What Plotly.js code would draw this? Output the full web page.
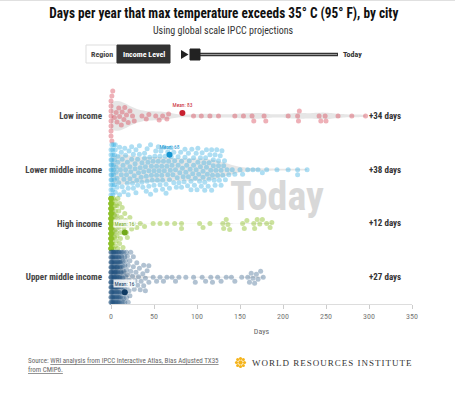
<!DOCTYPE html>
<html><head><meta charset="utf-8">
<script src="https://cdn.plot.ly/plotly-3.0.1.min.js"></script>
<style>html,body{margin:0;padding:0;background:#fff;}#chart{width:455px;height:394px;}</style>
</head><body><div id="chart"></div>
<script>
// ---------- DATA ----------
const categories = ["Low income", "Lower middle income", "High income", "Upper middle income"];
const changeLabels = ["+34 days", "+38 days", "+12 days", "+27 days"];
const meanDays = [83, 68, 16, 16];
const xTicks = [0, 50, 100, 150, 200, 250, 300, 350];

const lowIncomeDays = [0,0,0,0,0,0,0,0,1,1,2,4,6,7,9,10,12,13,15,16,18,20,22,25,27,36,41,44,52,56,60,65,67,
  96,105,115,125,144,154,164,166,178,180,206,217,218,219,242,244,249,250,264,280,296];

const lowerMiddleIncomeDays = [
  0,0,0,0,0,0,0,0,0,0,1,1,1,1,1,1,2,2,2,2,2,3,3,3,3,4,4,4,4,5,5,5,6,6,7,7,8,8,
  9,10,10,11,12,12,13,13,14,15,15,16,17,17,18,19,19,
  20,20,21,22,22,23,24,24,25,26,26,27,28,28,29,29,
  30,31,31,32,33,33,34,35,36,36,37,38,39,39,
  40,41,41,42,42,43,44,44,45,46,46,47,47,48,49,
  50,50,51,52,52,53,53,54,55,55,56,57,57,58,59,59,
  60,60,61,62,62,63,64,64,65,66,66,67,68,68,69,
  70,70,71,72,73,73,74,75,76,77,78,78,79,
  80,81,82,82,83,84,85,86,86,87,88,89,
  90,90,91,92,93,93,94,95,96,96,97,98,99,99,
  100,101,101,102,103,104,104,105,106,107,107,108,109,109,
  110,111,111,112,113,114,114,115,116,117,117,118,119,119,
  120,121,121,122,123,124,125,125,126,127,128,128,129,
  130,131,132,133,135,137,
  141,144,150,153,159,165,171,176,181,193,206,217,217,228];

const highIncomeDays = [
  0,0,0,0,0,0,0,0,0,0, 0,0,0,0,0,0,0,0,0,0, 0,0,0,0,0,0,0,0,0,0,
  0,0,0,0,0,0,0,0,0,0, 0,0,0,0,0,0,0,0,0,0, 0,0,0,0,0,0,0,0,0,0,
  0,0,0,0,0,0,0,0,0,0, 0,0,0,0,0,0,0,0,0,0, 0,0,0,0,0,0,0,0,0,0,
  1,1,1,1,1,1,1,1,1,1, 2,2,2,2,2,2,2,2,
  3,3,3,4,4,4,4,5,5,5,5,6,6,6,7,7,7,8,8,8,9,9,10,10,11,11,12,12,13,14,15,16,17,18,19,20,22,24,26,
  30,34,39,49,57,65,74,82,82,103,107,115,130,131,134,136,138,153,155,158,166,167,170,173,176,181,185,187];

const upperMiddleIncomeDays = [
  0,0,0,0,0,0,0,0,0,0,0,0,0,0,0,0,0,0,0,0,0,0,0,0,0,
  1,1,1,1,1,1,1,1,1,1,1,1,1,1,1,
  2,2,2,2,2,2,2,2,2,2,2,2,2,2,
  3,3,3,3,3,3,3,3,3,3,3,3,
  4,4,4,4,4,4,4,4,4,4,4,4,
  5,5,5,5,5,5,5,5,5,5,5,5,5,
  6,6,6,6,6,6,6,6,6,6,6,6,
  7,7,7,7,7,7,7,7,7,7,7,7,
  8,8,8,8,8,8,8,8,8,8,8,
  9,9,9,9,9,9,9,9,9,9,
  10,10,10,10,10,10,10,10,10,
  11,11,11,11,11,11,11,11,
  12,12,12,12,12,12,12,13,13,13,13,13,13,14,14,14,14,14,14,
  15,15,15,15,15,16,16,16,16,17,17,17,17,18,18,18,19,19,19,20,20,21,22,
  21,22,23,23,24,25,26,26,27,28,29,31,32,33,35,37,38,40,42,44,
  30,34,38,40,44,49,53,57,61,65,71,75,79,87,96,98,106,110,116,118,124,128,134,140,144,152,
  159,161,163,165,167,169,171,174,177];

// ---------- STYLE ----------
const FONT = '"Liberation Sans Narrow","Roboto Condensed","DejaVu Sans Condensed",Roboto,sans-serif';
const groups = [lowIncomeDays, lowerMiddleIncomeDays, highIncomeDays, upperMiddleIncomeDays];
const pointColors = ['#d9505f', '#35ace0', '#8cbf26', '#1f4f7d'];
const pointOpacity = [0.45, 0.4, 0.45, 0.35];
const meanColors = ['#c8202f', '#1495d1', '#72a81a', '#0f3a63'];
const bandwidths = [12, 14, 5, 5];
const meanOffsetPx = [-3, -15, 9, 15];

const L = 111, R = 412, T = 89, B = 304;
const PX_PER_DAY = (R - L) / 350;
const PX_PER_ROW = (B - T) / 4;
const X = px => (px - L) / (R - L);
const Y = py => (B - py) / (B - T);

// beeswarm: compute vertical pixel offsets from values
function swarm(vals, d, M) {
  const idx = vals.map((v, i) => i).sort((a, b) => vals[a] - vals[b]);
  const placed = [];
  const ys = new Array(vals.length);
  const step = 0.5;
  for (const i of idx) {
    const x = vals[i] * PX_PER_DAY;
    const near = placed.filter(p => x - p.x < d);
    let best = 0, bestScore = Infinity;
    for (let k = 0; ; k++) {
      const off = (k % 2 === 1 ? 1 : -1) * Math.ceil(k / 2) * step;
      if (Math.abs(off) > M) break;
      let score = 0;
      for (const p of near) {
        const dx = x - p.x, dy = off - p.y;
        const dist = Math.sqrt(dx * dx + dy * dy);
        if (dist < d) score += d - dist;
      }
      if (score === 0) { best = off; bestScore = 0; break; }
      if (score < bestScore) { bestScore = score; best = off; }
    }
    ys[i] = best;
    placed.push({x: x, y: best});
  }
  return ys;
}

const traces = [];
groups.forEach((vals, i) => {
  traces.push({
    type: 'violin', orientation: 'h', x: vals, y0: i, name: categories[i],
    points: false, box: {visible: false}, meanline: {visible: false},
    line: {width: 0, color: 'rgba(0,0,0,0)'}, fillcolor: 'rgba(205,205,205,0.5)',
    width: 0.55, spanmode: 'hard', bandwidth: bandwidths[i], hoverinfo: 'skip', showlegend: false
  });
});
groups.forEach((vals, i) => {
  const off = swarm(vals, 5, 25);
  traces.push({
    type: 'scatter', mode: 'markers', x: vals, y: off.map(o => i + o / PX_PER_ROW), cliponaxis: false,
    marker: {size: 5, color: pointColors[i], opacity: pointOpacity[i], line: {width: 0}},
    hoverinfo: 'skip', showlegend: false
  });
});
traces.push({
  type: 'scatter', mode: 'markers', x: meanDays, cliponaxis: false,
  y: meanDays.map((m, i) => i + meanOffsetPx[i] / PX_PER_ROW),
  marker: {size: 6, color: meanColors, line: {width: 0}}, hoverinfo: 'skip', showlegend: false
});

const annotations = [];
annotations.push({xref: 'paper', yref: 'paper', x: X(223.5), y: Y(30), text: 'Using global scale IPCC projections',
  showarrow: false, xanchor: 'center', yanchor: 'middle', font: {family: FONT, size: 10, color: '#333'}});
annotations.push({xref: 'paper', yref: 'paper', x: X(101.5), y: Y(54.5), text: 'Region', showarrow: false,
  xanchor: 'center', yanchor: 'middle', font: {family: FONT, size: 8, color: '#444', weight: 'bold'}});
annotations.push({xref: 'paper', yref: 'paper', x: X(143.5), y: Y(54.5), text: 'Income Level', showarrow: false,
  xanchor: 'center', yanchor: 'middle', font: {family: FONT, size: 8, color: '#fff', weight: 'bold'}});
annotations.push({xref: 'paper', yref: 'paper', x: X(341), y: Y(54.5), text: 'Today', showarrow: false,
  xanchor: 'left', yanchor: 'middle', font: {family: FONT, size: 8, color: '#333', weight: 'bold'}});
annotations.push({xref: 'paper', yref: 'paper', x: X(276.5), y: Y(196), text: 'Today', showarrow: false,
  xanchor: 'center', yanchor: 'middle', font: {family: FONT, size: 40, color: '#d8d8d8', weight: 'bold'}});
changeLabels.forEach((t, i) => annotations.push({xref: 'paper', yref: 'y', x: X(367), y: i, text: t,
  showarrow: false, xanchor: 'left', yanchor: 'middle', font: {family: FONT, size: 9, color: '#333', weight: 'bold'}}));
// mean labels
meanDays.forEach((m, i) => {
  const boxed = i >= 2;
  annotations.push({xref: 'x', yref: 'y', x: m, y: i + meanOffsetPx[i] / PX_PER_ROW, text: 'Mean: ' + m,
    showarrow: false, xanchor: 'center', yanchor: 'middle', yshift: 8.5,
    bgcolor: boxed ? 'rgba(255,255,255,0.85)' : 'rgba(0,0,0,0)', borderpad: 0.5,
    font: {family: FONT, size: 5.5, color: meanColors[i]}});
});
annotations.push({xref: 'paper', yref: 'paper', x: X(26), y: Y(355), xanchor: 'left', yanchor: 'top', align: 'left',
  showarrow: false, text: 'Source: <u>WRI analysis from IPCC Interactive Atlas, Bias Adjusted TX35</u><br><u>from CMIP6.</u>',
  font: {family: FONT, size: 7, color: '#666'}});
annotations.push({xref: 'paper', yref: 'paper', x: X(251), y: Y(362.5), xanchor: 'left', yanchor: 'middle', align: 'left',
  showarrow: false, text: 'WORLD RESOURCES INSTITUTE',
  font: {family: '"Liberation Serif","DejaVu Serif",serif', size: 9, color: '#333'}});

const shapes = [];
shapes.push({type: 'line', xref: 'paper', yref: 'paper', x0: X(0), x1: X(455), y0: Y(0.5), y1: Y(0.5), line: {color: '#e0e0e0', width: 1}});
shapes.push({type: 'rect', xref: 'paper', yref: 'paper', x0: X(86), x1: X(117), y0: Y(63), y1: Y(45), fillcolor: '#fff', line: {color: '#ddd', width: 1}});
shapes.push({type: 'rect', xref: 'paper', yref: 'paper', x0: X(117), x1: X(170), y0: Y(63), y1: Y(45), fillcolor: '#333', line: {color: '#333', width: 1}});
shapes.push({type: 'path', xref: 'paper', yref: 'paper',
  path: 'M' + X(181) + ',' + Y(50) + ' L' + X(188.5) + ',' + Y(54.5) + ' L' + X(181) + ',' + Y(59) + ' Z',
  fillcolor: '#222', line: {width: 0}});
shapes.push({type: 'line', xref: 'paper', yref: 'paper', x0: X(198), x1: X(338), y0: Y(54.5), y1: Y(54.5), line: {color: '#333', width: 3.5}});
shapes.push({type: 'line', xref: 'paper', yref: 'paper', x0: X(198), x1: X(337), y0: Y(54.5), y1: Y(54.5), line: {color: '#999', width: 1}});
shapes.push({type: 'rect', xref: 'paper', yref: 'paper', x0: X(190), x1: X(200), y0: Y(60), y1: Y(49), fillcolor: '#222', line: {color: '#222', width: 1}});
// WRI flower mark
const fc = [240.5, 362.5];
const petals = [[0,0,2.2],[0,-4,1.6],[0,4,1.6],[-4,0,1.6],[4,0,1.6],[-2.9,-2.9,1.5],[2.9,-2.9,1.5],[-2.9,2.9,1.5],[2.9,2.9,1.5]];
petals.forEach(p => shapes.push({type: 'circle', xref: 'paper', yref: 'paper',
  x0: X(fc[0] + p[0] - p[2]), x1: X(fc[0] + p[0] + p[2]), y0: Y(fc[1] + p[1] + p[2]), y1: Y(fc[1] + p[1] - p[2]),
  fillcolor: '#f5b41b', line: {width: 0}}));

const layout = {
  width: 455, height: 394, margin: {l: L, r: 455 - R, t: T, b: 394 - B, pad: 0},
  paper_bgcolor: '#fff', plot_bgcolor: '#fff', showlegend: false, violinmode: 'overlay',
  font: {family: FONT, color: '#444'},
  title: {text: 'Days per year that max temperature exceeds 35° C (95° F), by city',
    font: {family: FONT, size: 14.5, color: '#111', weight: 'bold'},
    x: 0.492, xref: 'container', xanchor: 'center', y: 1 - 13 / 394, yref: 'container', yanchor: 'middle'},
  xaxis: {range: [0, 350], tickvals: xTicks, ticks: 'outside', ticklen: 4, tickcolor: '#ccc',
    showline: true, linecolor: '#ddd', showgrid: false, zeroline: false, fixedrange: true,
    tickfont: {family: FONT, size: 8, color: '#777'},
    title: {text: 'Days', font: {family: FONT, size: 8, color: '#666'}, standoff: 8}},
  yaxis: {range: [3.5, -0.5], tickvals: [0, 1, 2, 3], ticktext: categories, showgrid: false, zeroline: false,
    showline: false, ticks: '', fixedrange: true, ticklabelstandoff: 8,
    tickfont: {family: FONT, size: 9, color: '#444', weight: 'bold'}},
  annotations: annotations, shapes: shapes
};

Plotly.newPlot('chart', traces, layout, {displayModeBar: false, staticPlot: true}).then(() => {
  document.querySelectorAll('.annotation-text').forEach(el => {
    if (el.textContent === 'WORLD RESOURCES INSTITUTE') {
      el.style.letterSpacing = '1.0px';
      el.setAttribute('text-anchor', 'start');
      const bb = el.getBBox();
      const dx = 252 - (el.getCTM() ? el.getCTM().e : 0) - bb.x;
      el.setAttribute('transform', 'translate(' + dx + ',0)');
    }
  });
  const t = document.querySelector('.gtitle');
  if (t) { t.setAttribute('textLength', '349'); t.setAttribute('lengthAdjust', 'spacingAndGlyphs'); }
});
</script></body></html>
